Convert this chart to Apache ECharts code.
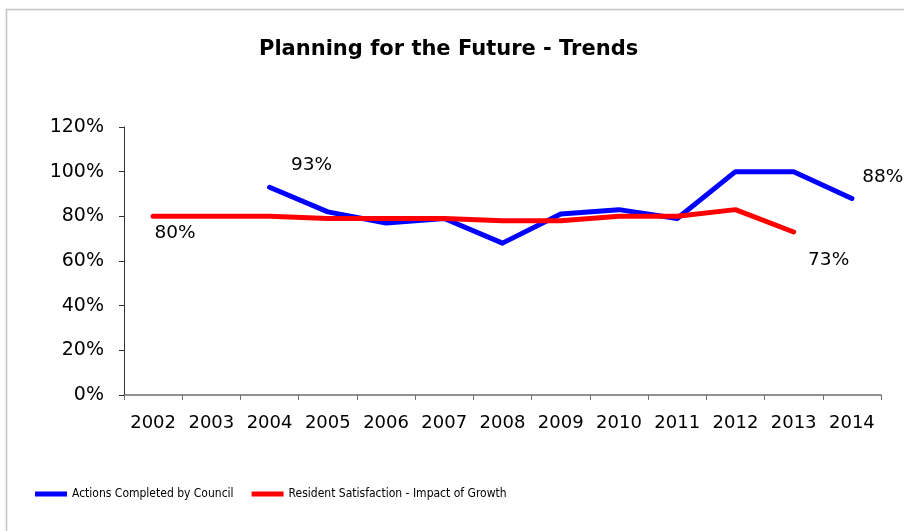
<!DOCTYPE html>
<html>
<head>
<meta charset="utf-8">
<style>
  html, body { margin: 0; padding: 0; background: #ffffff; }
  #chart { width: 904px; height: 531px; }
</style>
<script src="https://cdn.jsdelivr.net/npm/echarts@6/dist/echarts.min.js"></script>
</head>
<body>
<div id="chart"></div>
<script>
// Years on the category axis
const years = ['2002', '2003', '2004', '2005', '2006', '2007', '2008',
               '2009', '2010', '2011', '2012', '2013', '2014'];

// Percentages per year (null where no figure exists)
const actionsCompleted = [null, null, 93, 82, 77, 79, 68, 81, 83, 79, 100, 100, 88];
const residentSatisfaction = [80, 80, 80, 79, 79, 79, 78, 78, 80, 80, 83, 73, null];

// Y-axis tick range, in percent
const yTicks = { min: 0, max: 120, step: 20 };

// Which points carry a value label, and where the label sits relative to the point
const actionsLabels = { 2: [42, -22], 12: [31, -21] };
const satisfactionLabels = { 0: [22, 17], 11: [35, 28] };

const BASE_FONT = "'DejaVu Sans', Verdana, sans-serif";
const BLUE = '#0000ff';
const RED = '#ff0000';

function withLabels(values, labels) {
  return values.map((v, i) => {
    if (labels[i] && v != null) {
      return {
        value: v,
        label: {
          show: true,
          position: 'inside',
          offset: labels[i],
          formatter: '{c}%',
          color: '#000',
          fontSize: 18.5,
          fontFamily: BASE_FONT
        }
      };
    }
    return v;
  });
}

const chart = echarts.init(document.getElementById('chart'), null, { renderer: 'canvas' });

chart.setOption({
  backgroundColor: '#ffffff',
  animation: false,
  title: {
    text: 'Planning for the Future - Trends',
    left: 254,
    top: 34,
    textStyle: {
      fontFamily: BASE_FONT,
      fontWeight: 'bold',
      fontSize: 21,
      color: '#000'
    }
  },
  graphic: [{
    type: 'rect',
    shape: { x: 6.5, y: 9.5, width: 1000, height: 600 },
    style: { fill: 'none', stroke: '#c4c4c4', lineWidth: 1.5 },
    silent: true
  }],
  legend: {
    left: 35,
    top: 488,
    padding: 0,
    itemWidth: 32,
    itemHeight: 5,
    itemGap: 18,
    icon: 'rect',
    textStyle: {
      fontFamily: "'DejaVu Sans Condensed', 'Liberation Sans', sans-serif",
      fontSize: 12,
      color: '#000'
    },
    data: [
      { name: 'Actions Completed by Council', itemStyle: { color: BLUE, opacity: 1 } },
      { name: 'Resident Satisfaction - Impact of Growth', itemStyle: { color: RED, opacity: 1 } }
    ]
  },
  grid: {
    left: 124,
    right: 23,
    top: 127,
    bottom: 136,
    containLabel: false
  },
  xAxis: {
    type: 'category',
    data: years,
    boundaryGap: true,
    axisLine: { lineStyle: { color: '#6e6e6e', width: 1.5 } },
    axisTick: { show: true, inside: false, length: 5, alignWithLabel: false, lineStyle: { color: '#6e6e6e' } },
    axisLabel: {
      margin: 19,
      color: '#000',
      fontSize: 18,
      fontFamily: BASE_FONT,
      interval: 0
    },
    splitLine: { show: false }
  },
  yAxis: {
    type: 'value',
    min: yTicks.min,
    max: yTicks.max,
    interval: yTicks.step,
    axisLine: { show: true, lineStyle: { color: '#333', width: 1 } },
    axisTick: { show: true, inside: false, length: 5, lineStyle: { color: '#333' } },
    axisLabel: {
      margin: 20,
      color: '#000',
      fontSize: 19,
      fontFamily: BASE_FONT,
      formatter: '{value}%'
    },
    splitLine: { show: false }
  },
  series: [
    {
      name: 'Actions Completed by Council',
      type: 'line',
      data: withLabels(actionsCompleted, actionsLabels),
      color: BLUE,
      lineStyle: { width: 5, color: BLUE, cap: 'round', join: 'round' },
      symbol: 'circle',
      symbolSize: 0,
      showSymbol: true,
      itemStyle: { color: BLUE },
      connectNulls: false,
      z: 2
    },
    {
      name: 'Resident Satisfaction - Impact of Growth',
      type: 'line',
      data: withLabels(residentSatisfaction, satisfactionLabels),
      color: RED,
      lineStyle: { width: 5, color: RED, cap: 'round', join: 'round' },
      symbol: 'circle',
      symbolSize: 0,
      showSymbol: true,
      itemStyle: { color: RED },
      connectNulls: false,
      z: 3
    }
  ]
});
</script>
</body>
</html>
